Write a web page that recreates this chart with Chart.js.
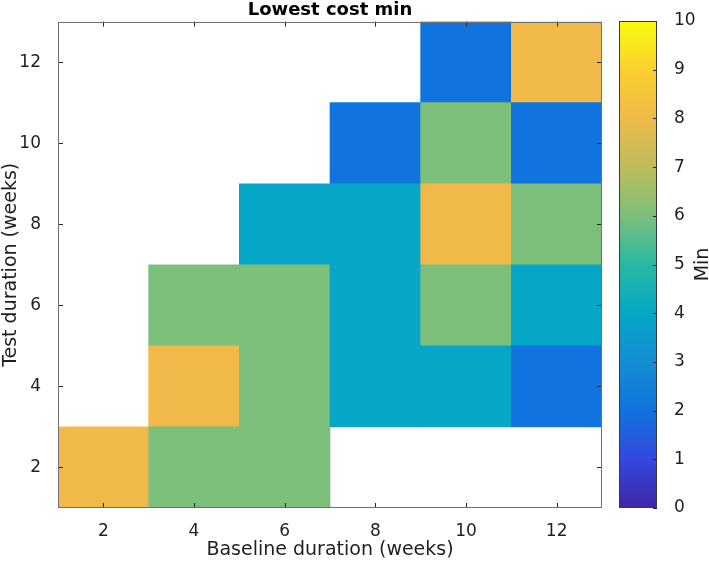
<!DOCTYPE html>
<html>
<head>
<meta charset="utf-8">
<script src="https://cdn.jsdelivr.net/npm/chart.js@4.4.1/dist/chart.umd.min.js"></script>
<style>
  html, body { margin: 0; padding: 0; background: #ffffff; }
  #wrap { position: relative; width: 709px; height: 563px; overflow: hidden; background: #ffffff; }
  #main { position: absolute; left: 0; top: 0; }
  #cbar { position: absolute; left: 600px; top: 0; }
</style>
</head>
<body>
<div id="wrap">
  <canvas id="main" width="605" height="563"></canvas>
  <canvas id="cbar" width="109" height="563"></canvas>
</div>
<script>
// ---------------- data ----------------
const chartTitle = 'Lowest cost min';
const xAxisTitle = 'Baseline duration (weeks)';
const yAxisTitle = 'Test duration (weeks)';
const colorbarTitle = 'Min';

const baselineWeeks = [2, 4, 6, 8, 10, 12];   // x categories (cell centres)
const testWeeks = [2, 4, 6, 8, 10, 12];       // y categories (cell centres)

// "Min" value per cell, one array per test duration (null = no cell)
const testDur2  = [8, 6, 6, null, null, null];
const testDur4  = [null, 8, 6, 4, 4, 2];
const testDur6  = [null, 6, 6, 4, 6, 4];
const testDur8  = [null, null, 4, 4, 8, 6];
const testDur10 = [null, null, null, 2, 6, 2];
const testDur12 = [null, null, null, null, 2, 8];

const xTickLabels = [2, 4, 6, 8, 10, 12];
const yTickLabels = [2, 4, 6, 8, 10, 12];
const colorbarTicks = [0, 1, 2, 3, 4, 5, 6, 7, 8, 9, 10];
const colorMin = 0, colorMax = 10;

// parula colour map stops (value 0..10)
const parulaStops = [
  [62, 38, 168], [52, 72, 222], [16, 115, 222], [20, 142, 212], [6, 167, 198],
  [40, 184, 162], [124, 191, 123], [188, 189, 92], [240, 185, 73], [250, 208, 45],
  [249, 251, 14]
];

// ---------------- helpers ----------------
const FONT = "'DejaVu Sans', sans-serif";
const TEXT = '#1f1f1f';
const CELL_HALF = 1; // half of the 2-week grid spacing

function parula(v) {
  const t = Math.max(0, Math.min(1, (v - colorMin) / (colorMax - colorMin))) * (parulaStops.length - 1);
  const i = Math.min(parulaStops.length - 2, Math.floor(t));
  const f = t - i;
  const a = parulaStops[i], b = parulaStops[i + 1];
  const c = a.map((ac, k) => Math.round(ac + (b[k] - ac) * f));
  return `rgb(${c[0]},${c[1]},${c[2]})`;
}

const rows = [testDur2, testDur4, testDur6, testDur8, testDur10, testDur12];

const datasets = testWeeks.map((yc, r) => {
  const pts = [], cols = [];
  baselineWeeks.forEach((xc, c) => {
    const v = rows[r][c];
    if (v !== null) {
      pts.push({ x: xc, y: [yc - CELL_HALF, yc + CELL_HALF], v: v });
      cols.push(parula(v));
    }
  });
  return {
    label: 'Test ' + yc + ' weeks',
    data: pts,
    backgroundColor: cols,
    borderWidth: 0,
    barPercentage: 1,
    categoryPercentage: 1,
    grouped: false
  };
});

// inward tick marks + box (drawn over the cells, MATLAB style)
const axesBox = {
  id: 'axesBox',
  afterDatasetsDraw(chart) {
    const { ctx, chartArea: a, scales: { x, y } } = chart;
    ctx.save();
    ctx.lineWidth = 1;
    ctx.strokeStyle = '#262626';
    ctx.beginPath();
    x.ticks.forEach(t => {
      const px = Math.round(x.getPixelForValue(t.value)) + 0.5;
      ctx.moveTo(px, a.bottom); ctx.lineTo(px, a.bottom - 5);
      ctx.moveTo(px, a.top); ctx.lineTo(px, a.top + 5);
    });
    y.ticks.forEach(t => {
      const py = Math.round(y.getPixelForValue(t.value)) + 0.5;
      ctx.moveTo(a.left, py); ctx.lineTo(a.left + 5, py);
      ctx.moveTo(a.right, py); ctx.lineTo(a.right - 5, py);
    });
    ctx.stroke();
    ctx.strokeStyle = '#707070';
    ctx.strokeRect(Math.round(a.left) + 0.5, Math.round(a.top) + 0.5,
                   Math.round(a.width) - 1, Math.round(a.height) - 1);
    ctx.restore();
  }
};

new Chart(document.getElementById('main'), {
  type: 'bar',
  data: { datasets: datasets },
  options: {
    responsive: false,
    animation: false,
    layout: { padding: { left: 0, right: 3, top: 0, bottom: 0 } },
    plugins: {
      legend: { display: false },
      tooltip: { enabled: false },
      title: {
        display: true, text: chartTitle, fullSize: false, color: '#000',
        font: { family: FONT, size: 18, weight: 'bold' },
        padding: { top: 0, bottom: 0 }
      }
    },
    scales: {
      x: {
        type: 'linear', min: 1, max: 13, offset: false,
        afterBuildTicks: s => { s.ticks = xTickLabels.map(v => ({ value: v })); },
        afterFit: s => { s.height = 55; },
        grid: { display: false },
        border: { display: false },
        ticks: { padding: 5, color: TEXT, font: { family: FONT, size: 17 } },
        title: { display: true, text: xAxisTitle, color: TEXT,
                 font: { family: FONT, size: 19 }, padding: { top: 0, bottom: 2 } }
      },
      y: {
        type: 'linear', min: 1, max: 13, stacked: false,
        afterBuildTicks: s => { s.ticks = yTickLabels.map(v => ({ value: v })); },
        afterFit: s => { s.width = 58; },
        grid: { display: false },
        border: { display: false },
        ticks: { padding: 9, color: TEXT, font: { family: FONT, size: 17 } },
        title: { display: true, text: yAxisTitle, color: TEXT,
                 font: { family: FONT, size: 19 }, padding: { top: 0, bottom: 0 } }
      }
    }
  },
  plugins: [axesBox]
});

// ---------------- colour bar ----------------
const cbarDecor = {
  id: 'cbarDecor',
  afterDatasetsDraw(chart) {
    const { ctx, chartArea: a, scales: { y } } = chart;
    ctx.save();
    ctx.lineWidth = 1;
    ctx.strokeStyle = '#262626';
    ctx.beginPath();
    y.ticks.forEach(t => {
      const py = Math.round(y.getPixelForValue(t.value)) + 0.5;
      ctx.moveTo(a.right, py); ctx.lineTo(a.right - 4, py);
    });
    ctx.stroke();
    ctx.strokeStyle = '#3a3a3a';
    ctx.strokeRect(Math.round(a.left) + 0.5, Math.round(a.top) + 0.5,
                   Math.round(a.width) - 1, Math.round(a.height) - 1);
    // colour bar label, reading bottom-to-top
    ctx.fillStyle = TEXT;
    ctx.font = "19px " + FONT;
    ctx.textAlign = 'center';
    ctx.textBaseline = 'middle';
    ctx.translate(103, (a.top + a.bottom) / 2);
    ctx.rotate(-Math.PI / 2);
    ctx.fillText(colorbarTitle, 0, 0);
    ctx.restore();
  }
};

new Chart(document.getElementById('cbar'), {
  type: 'bar',
  data: {
    labels: [colorbarTitle],
    datasets: [{
      data: [[colorMin, colorMax]],
      borderWidth: 0,
      barPercentage: 1,
      categoryPercentage: 1,
      backgroundColor: (c) => {
        const chart = c.chart;
        const ys = chart.scales.y;
        if (!chart.chartArea || !ys) return parula(5);
        const g = chart.ctx.createLinearGradient(0, ys.getPixelForValue(colorMin), 0, ys.getPixelForValue(colorMax));
        parulaStops.forEach((s, i) => g.addColorStop(i / (parulaStops.length - 1), `rgb(${s[0]},${s[1]},${s[2]})`));
        return g;
      }
    }]
  },
  options: {
    responsive: false,
    animation: false,
    layout: { padding: { left: 19, right: 0, top: 21, bottom: 55 } },
    plugins: { legend: { display: false }, tooltip: { enabled: false } },
    scales: {
      x: { display: false },
      y: {
        position: 'right', min: colorMin, max: colorMax,
        afterBuildTicks: s => { s.ticks = colorbarTicks.map(v => ({ value: v })); },
        afterFit: s => { s.width = 52; },
        grid: { display: false },
        border: { display: false },
        ticks: { padding: 9, color: TEXT, font: { family: FONT, size: 17 } }
      }
    }
  },
  plugins: [cbarDecor]
});
</script>
</body>
</html>
